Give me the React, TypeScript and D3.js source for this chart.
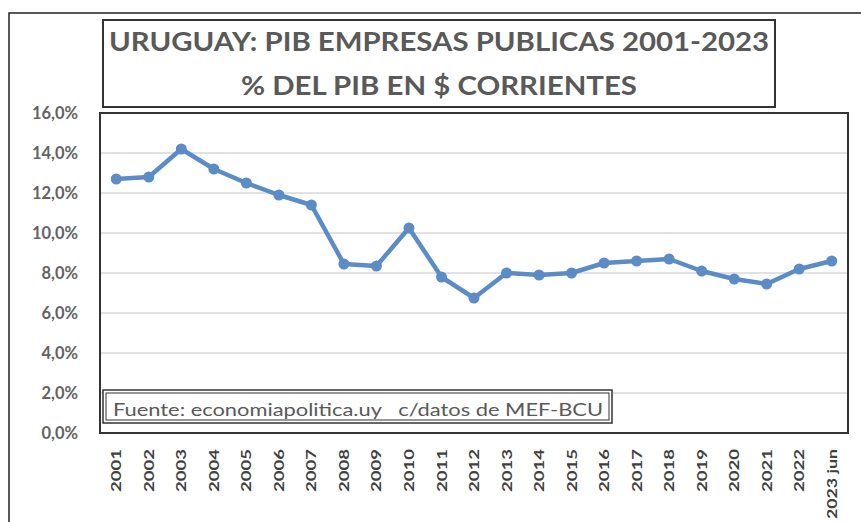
import React from 'react';
import * as d3 from 'd3';

const years = [
  '2001', '2002', '2003', '2004', '2005', '2006', '2007', '2008', '2009', '2010', '2011', '2012',
  '2013', '2014', '2015', '2016', '2017', '2018', '2019', '2020', '2021', '2022', '2023 jun',
];
const pibShare = [
  12.7, 12.8, 14.2, 13.2, 12.5, 11.9, 11.4, 8.45, 8.35, 10.25, 7.8, 6.75,
  8.0, 7.9, 8.0, 8.5, 8.6, 8.7, 8.1, 7.7, 7.45, 8.2, 8.6,
];
const yTicks = [0, 2, 4, 6, 8, 10, 12, 14, 16];
const titleLines = ['URUGUAY: PIB EMPRESAS PUBLICAS 2001-2023', '% DEL PIB EN $ CORRIENTES'];
const sourceText = 'Fuente: economiapolitica.uy   c/datos de MEF-BCU';

const W = 861;
const H = 522;
const plot = { left: 100, right: 848, top: 113, bottom: 433 };
const font = "Lato, 'Open Sans', sans-serif";
const textGray = '#595959';
const lineBlue = '#5b8cc6';

const App: React.FC = () => {
  const x = d3
    .scalePoint<string>()
    .domain(years)
    .range([plot.left, plot.right])
    .padding(0.5);

  const y = d3.scaleLinear().domain([0, 16]).range([plot.bottom, plot.top]);

  const line = d3
    .line<number>()
    .x((_, i) => x(years[i]) as number)
    .y(d => y(d));

  const fmt = (v: number) => d3.format('.1f')(v).replace('.', ',') + '%';

  return (
    <svg
      width={W}
      height={H}
      style={{ position: 'fixed', left: 0, top: 0, background: '#fff' }}
      fontFamily={font}
    >
      {/* outer frame */}
      <rect x={9} y={13} width={W} height={H} fill="#fff" stroke="#222" strokeWidth={1.5} />

      {/* title box */}
      <rect x={103} y={20} width={672} height={87} fill="#fff" stroke="#333" strokeWidth={2} />
      <text
        x={439}
        y={51}
        textAnchor="middle"
        fontSize={26}
        fontWeight="bold"
        fill={textGray}
        textLength={660}
        lengthAdjust="spacingAndGlyphs"
      >
        {titleLines[0]}
      </text>
      <text
        x={439}
        y={95}
        textAnchor="middle"
        fontSize={26}
        fontWeight="bold"
        fill={textGray}
        textLength={396}
        lengthAdjust="spacingAndGlyphs"
      >
        {titleLines[1]}
      </text>

      {/* plot area */}
      <rect
        x={plot.left}
        y={plot.top}
        width={plot.right - plot.left}
        height={plot.bottom - plot.top}
        fill="#fff"
        stroke="#333"
        strokeWidth={2}
      />

      {/* gridlines */}
      {yTicks.slice(1, -1).map(t => (
        <line
          key={t}
          x1={plot.left + 1}
          x2={plot.right - 1}
          y1={y(t)}
          y2={y(t)}
          stroke="#d9d9d9"
          strokeWidth={1.5}
        />
      ))}

      {/* y labels */}
      {yTicks.map(t => (
        <text
          key={t}
          x={78}
          y={y(t)}
          dy="0.36em"
          textAnchor="end"
          fontSize={16.5}
          fontWeight="bold"
          fill="#636363"
        >
          {fmt(t)}
        </text>
      ))}

      {/* series */}
      <path d={line(pibShare) || ''} fill="none" stroke={lineBlue} strokeWidth={4.5} strokeLinejoin="round" />
      {pibShare.map((v, i) => (
        <circle key={years[i]} cx={x(years[i])} cy={y(v)} r={5.5} fill={lineBlue} />
      ))}

      {/* source box */}
      <rect x={103} y={390} width={509} height={33} fill="#fff" stroke="#333" strokeWidth={1.5} />
      <rect x={106} y={393} width={503} height={27} fill="none" stroke="#333" strokeWidth={1} />
      <text
        x={113}
        y={416}
        fontSize={17}
        fill={textGray}
        textLength={490}
        lengthAdjust="spacingAndGlyphs"
        style={{ whiteSpace: 'pre' }}
      >
        {sourceText}
      </text>

      {/* x labels */}
      {years.map(yr => (
        <text
          key={yr}
          transform={`translate(${x(yr)},449) rotate(-90)`}
          dy="0.36em"
          textAnchor="end"
          fontSize={14}
          fontWeight="bold"
          fill="#404040"
          textLength={yr.length === 4 ? 43 : 70}
          lengthAdjust="spacingAndGlyphs"
          style={{ whiteSpace: 'pre' }}
        >
          {yr}
        </text>
      ))}
    </svg>
  );
};

export default App;
